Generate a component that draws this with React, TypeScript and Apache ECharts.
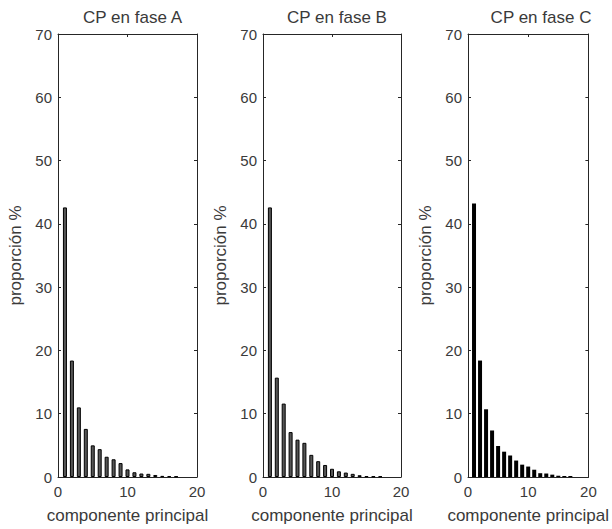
import React, { useEffect, useRef } from "react";
import * as echarts from "echarts";

const components = [1, 2, 3, 4, 5, 6, 7, 8, 9, 10, 11, 12, 13, 14, 15, 16, 17];
const faseA = [42.6, 18.4, 11.0, 7.6, 5.0, 4.4, 3.2, 2.8, 2.2, 1.2, 0.75, 0.55, 0.5, 0.32, 0.18, 0.16, 0.1];
const faseB = [42.6, 15.7, 11.6, 7.1, 5.9, 5.4, 3.5, 2.5, 1.9, 1.3, 0.9, 0.7, 0.5, 0.28, 0.12, 0.1, 0.1];
const faseC = [43.2, 18.4, 10.7, 7.35, 4.9, 4.0, 3.4, 2.6, 1.95, 1.65, 1.15, 0.6, 0.55, 0.37, 0.2, 0.16, 0.16];
const titles = ["CP en fase A", "CP en fase B", "CP en fase C"];
const xLabel = "componente principal";
const yLabel = "proporción %";

export default function App() {
  const ref = useRef<HTMLDivElement>(null);
  useEffect(() => {
    if (!ref.current) return;
    const chart = echarts.init(ref.current, undefined, { renderer: "svg" });
    const lefts = [58, 263, 468];
    const widths = [139, 138, 136];
    const top = 34;
    const bottom = 529 - 478;
    const font = "Liberation Sans, Arial, sans-serif";
    const fs = 15;
    const fsText = 17;
    const axisColor = "#262626";
    const textColor = "#3a3a3a";
    const seriesData = [faseA, faseB, faseC];
    const fills = ["#555555", "#555555", "#000000"];

    const grids: any[] = [];
    const xAxes: any[] = [];
    const yAxes: any[] = [];
    const series: any[] = [];
    const title: any[] = [];

    for (let i = 0; i < 3; i++) {
      grids.push({ left: lefts[i], width: widths[i], top, bottom, containLabel: false });
      title.push({
        text: titles[i],
        left: lefts[i] + widths[i] / 2,
        top: 4,
        textAlign: "center",
        textStyle: { fontFamily: font, fontSize: fsText, fontWeight: "normal", color: textColor },
      });
      const axisLine = { show: true, onZero: false, lineStyle: { color: axisColor, width: 1 } };
      const tick = { show: true, inside: true, length: 3, lineStyle: { color: axisColor } };
      xAxes.push({
        gridIndex: i,
        type: "value",
        min: 0,
        max: 20,
        interval: 10,
        position: "bottom",
        axisLine,
        axisTick: tick,
        splitLine: { show: false },
        axisLabel: { fontFamily: font, fontSize: fs, color: textColor, margin: 7 },
        name: xLabel,
        nameLocation: "middle",
        nameGap: 30,
        nameTextStyle: { fontFamily: font, fontSize: fsText, color: textColor },
      });
      xAxes.push({
        gridIndex: i,
        type: "value",
        min: 0,
        max: 20,
        interval: 10,
        position: "top",
        axisLine,
        axisTick: tick,
        splitLine: { show: false },
        axisLabel: { show: false },
      });
      yAxes.push({
        gridIndex: i,
        type: "value",
        min: 0,
        max: 70,
        interval: 10,
        position: "left",
        axisLine,
        axisTick: tick,
        splitLine: { show: false },
        axisLabel: { fontFamily: font, fontSize: fs, color: textColor, margin: 6 },
        name: yLabel,
        nameLocation: "middle",
        nameRotate: 90,
        nameGap: 34,
        nameTextStyle: { fontFamily: font, fontSize: fsText, color: textColor },
      });
      yAxes.push({
        gridIndex: i,
        type: "value",
        min: 0,
        max: 70,
        interval: 10,
        position: "right",
        axisLine,
        axisTick: tick,
        splitLine: { show: false },
        axisLabel: { show: false },
      });
      series.push({
        type: "bar",
        xAxisIndex: i * 2,
        yAxisIndex: i * 2,
        barWidth: 4,
        itemStyle: { color: fills[i], borderColor: "#000000", borderWidth: i < 2 ? 1 : 0 },
        data: components.map((c, k) => [c, seriesData[i][k]]),
      });
    }

    chart.setOption({
      animation: false,
      backgroundColor: "#ffffff",
      title,
      grid: grids,
      xAxis: xAxes,
      yAxis: yAxes,
      series,
    });
    return () => chart.dispose();
  }, []);
  return <div ref={ref} style={{ width: 612, height: 529, position: "absolute", left: 0, top: 0 }} />;
}
